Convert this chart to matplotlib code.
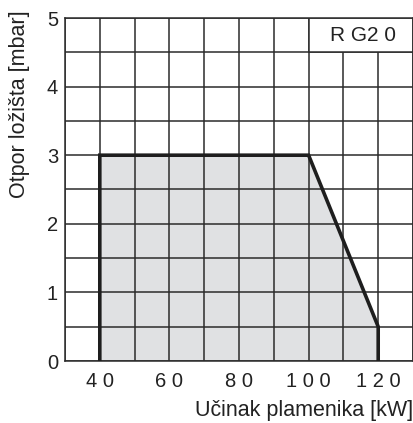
import matplotlib.pyplot as plt
from matplotlib.patches import Rectangle

plt.rcParams['font.family'] = ['Liberation Sans', 'DejaVu Sans']

# working field of the burner
power_kw = [40, 40, 100, 120, 120]
pressure_mbar = [0, 3, 3, 0.5, 0]

x_ticks = [40, 60, 80, 100, 120]
x_tick_labels = ['4 0', '6 0', '8 0', '1 0 0', '1 2 0']
y_ticks = [0, 1, 2, 3, 4, 5]
label = 'R G2 0'

fig = plt.figure(figsize=(4.14, 4.23), dpi=100)
ax = fig.add_axes([65 / 414, 62 / 423, 348 / 414, 343 / 423])

grid_col = '#2b2b2b'
txt_col = '#222222'

# grid every 10 kW / 0.5 mbar
for gx in range(30, 131, 10):
    ax.axvline(gx, color=grid_col, lw=1.1, zorder=1)
for gy in [i * 0.5 for i in range(11)]:
    ax.axhline(gy, color=grid_col, lw=1.1, zorder=1)

ax.fill(power_kw, pressure_mbar, facecolor='#e0e1e3', edgecolor='none', zorder=0)
ax.plot(power_kw, pressure_mbar, color='#1e1e1e', lw=2.6, zorder=3,
        solid_joinstyle='miter')

# label box in upper right
ax.add_patch(Rectangle((100, 4.5), 30, 0.5, facecolor='white',
                       edgecolor=grid_col, lw=1.1, zorder=2))
ax.text(115.5, 4.75, label, ha='center', va='center', fontsize=15, zorder=4,
        color=txt_col)

ax.set_xlim(30, 130)
ax.set_ylim(0, 5)
ax.set_xticks(x_ticks)
ax.set_xticklabels(x_tick_labels)
ax.set_yticks(y_ticks)
ax.tick_params(length=0, labelsize=14.5, colors=txt_col, pad=5)
ax.tick_params(axis='x', pad=8)
for s in ax.spines.values():
    s.set_color(grid_col)
    s.set_linewidth(1.1)

fig.text(20 / 414, 1 - 104 / 423, 'Otpor ložišta [mbar]', rotation=90,
         ha='center', va='center', fontsize=15.5, color=txt_col)
fig.text(413 / 414, 1 - 410 / 423, 'Učinak plamenika [kW]', ha='right',
         va='center', fontsize=15.5, color=txt_col)

plt.savefig('out.png', dpi=100)
